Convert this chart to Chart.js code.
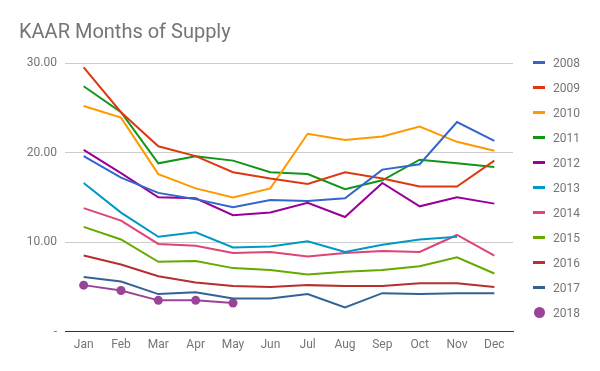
<!DOCTYPE html>
<html>
<head>
<meta charset="utf-8">
<script src="https://cdn.jsdelivr.net/npm/chart.js@4/dist/chart.umd.min.js"></script>
<style>
  html, body { margin: 0; padding: 0; background: #fff; }
  .wrap { position: relative; width: 600px; height: 371px; }
  #legend { position: absolute; left: 533px; top: 50px; font: 12px Roboto, sans-serif; color: #757575; }
  .legend-item { height: 25px; display: flex; align-items: center; }
  .legend-mark { width: 12px; height: 3px; margin-right: 8px; }
  .legend-dot { width: 11px; height: 11px; border-radius: 50%; margin-left: 1px; margin-right: 8px; }
</style>
</head>
<body>
<div class="wrap">
  <canvas id="supply-chart" width="600" height="371"></canvas>
  <div id="legend"></div>
</div>
<script>
'use strict';

const months = ['Jan', 'Feb', 'Mar', 'Apr', 'May', 'Jun', 'Jul', 'Aug', 'Sep', 'Oct', 'Nov', 'Dec'];

const y2008 = [19.6, 17.2, 15.5, 14.8, 13.9, 14.7, 14.6, 14.9, 18.1, 18.7, 23.4, 21.3];
const y2009 = [29.5, 24.5, 20.7, 19.6, 17.8, 17.1, 16.5, 17.8, 17.1, 16.2, 16.2, 19.1];
const y2010 = [25.2, 23.9, 17.6, 16.0, 15.0, 16.0, 22.1, 21.4, 21.8, 22.9, 21.2, 20.2];
const y2011 = [27.4, 24.5, 18.8, 19.6, 19.1, 17.8, 17.6, 15.9, 16.9, 19.2, 18.8, 18.4];
const y2012 = [20.3, 17.7, 15.0, 14.9, 13.0, 13.3, 14.4, 12.8, 16.6, 14.0, 15.0, 14.3];
const y2013 = [16.6, 13.3, 10.6, 11.1, 9.4, 9.5, 10.1, 8.9, 9.7, 10.3, 10.6, null];
const y2014 = [13.8, 12.4, 9.8, 9.6, 8.8, 8.9, 8.4, 8.8, 9.0, 8.9, 10.8, 8.5];
const y2015 = [11.7, 10.3, 7.8, 7.9, 7.1, 6.9, 6.4, 6.7, 6.9, 7.3, 8.3, 6.5];
const y2016 = [8.5, 7.5, 6.2, 5.5, 5.1, 5.0, 5.2, 5.1, 5.1, 5.4, 5.4, 5.0];
const y2017 = [6.1, 5.6, 4.2, 4.4, 3.7, 3.7, 4.2, 2.7, 4.3, 4.2, 4.3, 4.3];
const y2018 = [5.2, 4.6, 3.5, 3.5, 3.2];

const yTicks = [0, 10, 20, 30];

const series = [
  { label: '2008', data: y2008, color: '#3366cc' },
  { label: '2009', data: y2009, color: '#dc3912' },
  { label: '2010', data: y2010, color: '#ff9900' },
  { label: '2011', data: y2011, color: '#109618' },
  { label: '2012', data: y2012, color: '#990099' },
  { label: '2013', data: y2013, color: '#0099c6' },
  { label: '2014', data: y2014, color: '#dd4477' },
  { label: '2015', data: y2015, color: '#66aa00' },
  { label: '2016', data: y2016, color: '#b82e2e' },
  { label: '2017', data: y2017, color: '#316395' },
  { label: '2018', data: y2018, color: '#994499', dots: true },
];

Chart.defaults.font.family = 'Roboto, sans-serif';
Chart.defaults.color = '#757575';

const renderLegend = () => {
  document.getElementById('legend').innerHTML = series.map(s => `
    <div class="legend-item">
      <span class="${s.dots ? 'legend-dot' : 'legend-mark'}" style="background:${s.color}"></span>
      <span>${s.label}</span>
    </div>
  `).join('');
};

const ctx = document.getElementById('supply-chart').getContext('2d');
new Chart(ctx, {
  type: 'line',
  data: {
    labels: months,
    datasets: series.map(s => ({
      label: s.label,
      data: s.data,
      borderColor: s.color,
      backgroundColor: s.color,
      borderWidth: 2,
      pointRadius: s.dots ? 4.5 : 0,
      pointBorderWidth: 0,
      pointBackgroundColor: s.color,
      tension: 0,
      fill: false,
    })),
  },
  options: {
    responsive: false,
    devicePixelRatio: 1,
    animation: false,
    layout: { padding: { left: 19, right: 87, top: 0, bottom: 0 } },
    plugins: {
      legend: { display: false },
      tooltip: { enabled: false },
      title: {
        display: true,
        text: 'KAAR Months of Supply',
        align: 'start',
        color: '#757575',
        font: { size: 20, weight: 'normal' },
        padding: { top: 21, bottom: 18 },
      },
    },
    scales: {
      x: {
        offset: true,
        grid: { display: false, drawTicks: false },
        border: { display: true, color: '#333333', width: 1 },
        ticks: { padding: 6, font: { size: 12 } },
        afterFit: (scale) => { scale.height = 39.3; },
      },
      y: {
        min: 0,
        max: 30,
        afterBuildTicks: (scale) => { scale.ticks = yTicks.map(v => ({ value: v })); },
        grid: { color: '#cccccc', lineWidth: 1, drawTicks: false },
        border: { display: false },
        ticks: {
          padding: 8,
          font: { size: 12 },
          callback: (v) => (v === 0 ? '-' : Number(v).toFixed(2)),
        },
        afterFit: (scale) => { scale.width = 46; },
      },
    },
  },
});

renderLegend();
</script>
</body>
</html>
